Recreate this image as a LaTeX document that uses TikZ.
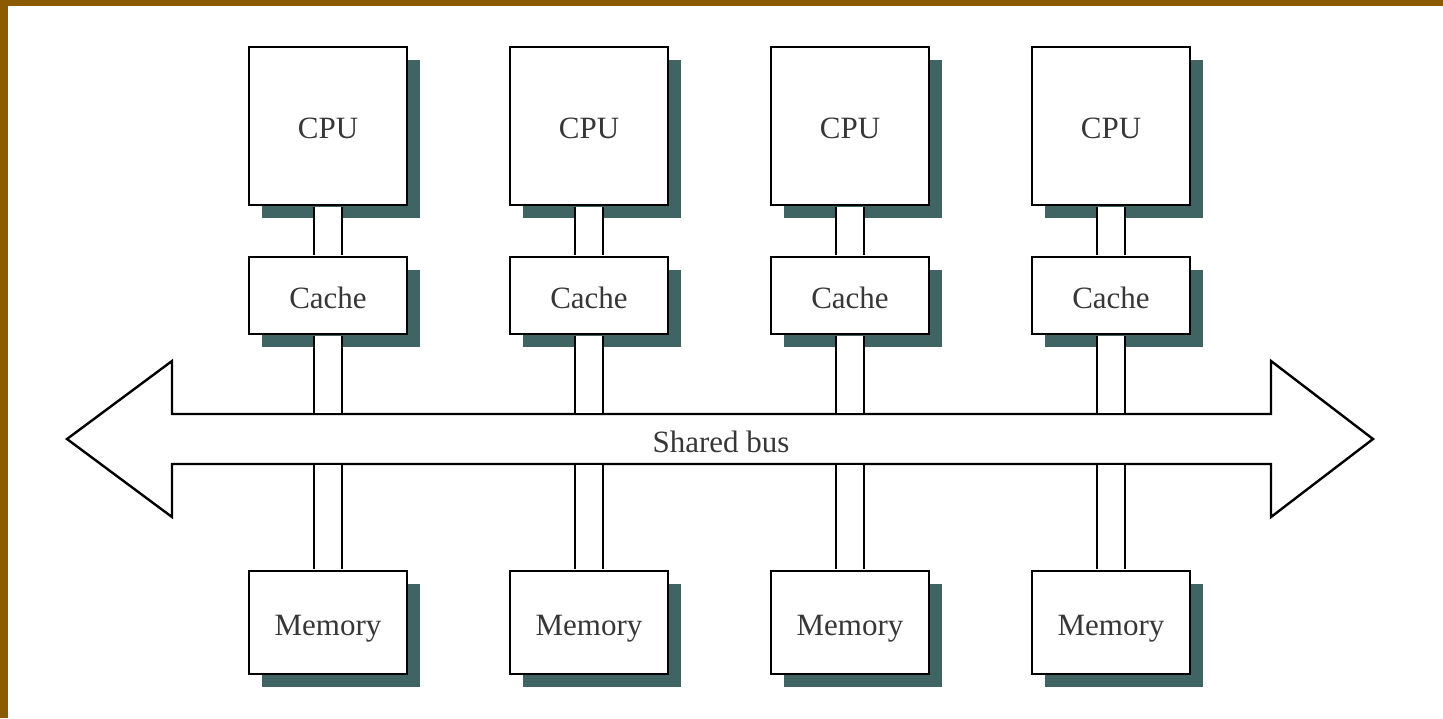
\documentclass[tikz,border=0pt]{standalone}
\usepackage{fontspec}
\setmainfont{Liberation Serif}
\usetikzlibrary{shadows}
\definecolor{framebrown}{RGB}{140,90,0}
\definecolor{shadowteal}{RGB}{64,100,100}
\definecolor{labelgray}{RGB}{55,55,55}
\tikzset{
  unit/.style={draw=black,line width=1.2pt,fill=white,inner sep=0pt,
               minimum width=79pt,font=\fontsize{15.5}{18}\selectfont,text=labelgray,
               text height=12.6pt,text depth=0pt,
               drop shadow={shadow xshift=6.5pt,shadow yshift=-6.5pt,fill=shadowteal,opacity=1}},
  cpubox/.style={unit,minimum height=79pt},
  cachebox/.style={unit,minimum height=38.5pt},
  membox/.style={unit,minimum height=51.5pt},
  link/.style={draw=black,line width=1.2pt,double=white,double distance=12.8pt,
               shorten <=0.6pt,shorten >=0.6pt},
  busline/.style={draw=black,line width=1.2pt,fill=white,line join=miter},
  lab/.style={font=\fontsize{15.5}{18}\selectfont,text=labelgray},
}
\begin{document}
\begin{tikzpicture}[x=0.5pt,y=-0.5pt]
  \path[use as bounding box] (0,0) rectangle (1443,718);
  \fill[white] (0,0) rectangle (1443,718);
  \fill[framebrown] (0,0) rectangle (1443,6);
  \fill[framebrown] (0,0) rectangle (8,718);

  % shared bus
  \draw[busline] (67,439) -- (172,361) -- (172,414) -- (1271,414) -- (1271,361)
    -- (1373,439) -- (1271,517) -- (1271,464) -- (172,464) -- (172,517) -- cycle;
  \node[lab] (bus) at (721,442) {Shared bus};
  \coordinate (bustop) at (720,414);
  \coordinate (busbot) at (720,464);

  % processors, caches and memories
  \foreach \i/\x in {1/328,2/589,3/850,4/1111}{
    \node[cpubox] (cpu\i) at (\x,126) {CPU};
    \node[cachebox] (cache\i) at (\x,295.5) {Cache};
    \node[membox] (mem\i) at (\x,622.5) {Memory};
    \draw[link] (cpu\i.south) -- (cache\i.north);
    \draw[link] (cache\i.south) -- (cache\i.south |- bustop);
    \draw[link] (busbot -| mem\i.north) -- (mem\i.north);
  }
\end{tikzpicture}
\end{document}
